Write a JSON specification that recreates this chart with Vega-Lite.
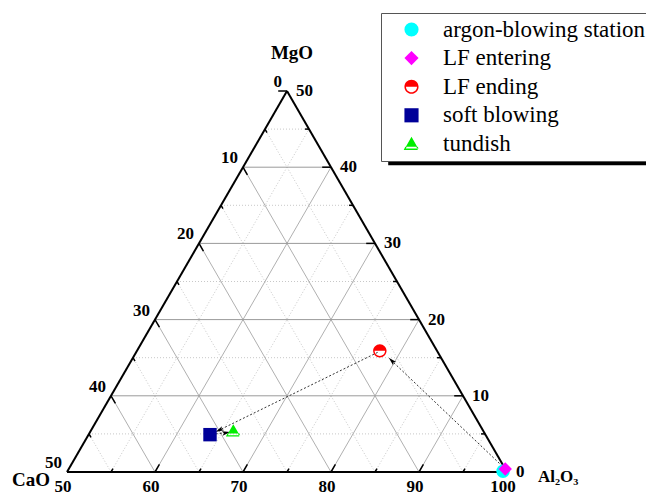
{
  "$schema": "https://vega.github.io/schema/vega-lite/v6.json",
  "width": 440,
  "height": 381,
  "autosize": {"type": "none"},
  "padding": {"left": 67, "top": 91, "right": 139, "bottom": 23},
  "background": "white",
  "config": {
    "view": {"stroke": null},
    "font": "Liberation Serif"
  },
  "datasets": {
    "minor": [
      {"x": 52.5, "y": 5, "x2": 97.5, "y2": 5},
      {"x": 57.5, "y": 15, "x2": 92.5, "y2": 15},
      {"x": 62.5, "y": 25, "x2": 87.5, "y2": 25},
      {"x": 67.5, "y": 35, "x2": 82.5, "y2": 35},
      {"x": 72.5, "y": 45, "x2": 77.5, "y2": 45},
      {"x": 55, "y": 0, "x2": 77.5, "y2": 45},
      {"x": 65, "y": 0, "x2": 82.5, "y2": 35},
      {"x": 75, "y": 0, "x2": 87.5, "y2": 25},
      {"x": 85, "y": 0, "x2": 92.5, "y2": 15},
      {"x": 95, "y": 0, "x2": 97.5, "y2": 5},
      {"x": 95, "y": 0, "x2": 72.5, "y2": 45},
      {"x": 85, "y": 0, "x2": 67.5, "y2": 35},
      {"x": 75, "y": 0, "x2": 62.5, "y2": 25},
      {"x": 65, "y": 0, "x2": 57.5, "y2": 15},
      {"x": 55, "y": 0, "x2": 52.5, "y2": 5}
    ],
    "hmajor": [
      {"x": 55, "y": 10, "x2": 95, "y2": 10},
      {"x": 60, "y": 20, "x2": 90, "y2": 20},
      {"x": 65, "y": 30, "x2": 85, "y2": 30},
      {"x": 70, "y": 40, "x2": 80, "y2": 40}
    ],
    "dmajor": [
      {"x": 60, "y": 0, "x2": 80, "y2": 40},
      {"x": 70, "y": 0, "x2": 85, "y2": 30},
      {"x": 80, "y": 0, "x2": 90, "y2": 20},
      {"x": 90, "y": 0, "x2": 95, "y2": 10},
      {"x": 90, "y": 0, "x2": 70, "y2": 40},
      {"x": 80, "y": 0, "x2": 65, "y2": 30},
      {"x": 70, "y": 0, "x2": 60, "y2": 20},
      {"x": 60, "y": 0, "x2": 55, "y2": 10}
    ],
    "frame": [
      {"x": 50, "y": 0, "x2": 100, "y2": 0},
      {"x": 100, "y": 0, "x2": 75, "y2": 50},
      {"x": 75, "y": 50, "x2": 50, "y2": 0}
    ],
    "ticks": [
      {"x": 97.5, "y": 5, "x2": 97.05, "y2": 5},
      {"x": 95, "y": 10, "x2": 94, "y2": 10},
      {"x": 92.5, "y": 15, "x2": 92.05, "y2": 15},
      {"x": 90, "y": 20, "x2": 89, "y2": 20},
      {"x": 87.5, "y": 25, "x2": 87.05, "y2": 25},
      {"x": 85, "y": 30, "x2": 84, "y2": 30},
      {"x": 82.5, "y": 35, "x2": 82.05, "y2": 35},
      {"x": 80, "y": 40, "x2": 79, "y2": 40},
      {"x": 77.5, "y": 45, "x2": 77.05, "y2": 45},
      {"x": 75, "y": 50, "x2": 74, "y2": 50},
      {"x": 55, "y": 0, "x2": 55.225, "y2": 0.45},
      {"x": 60, "y": 0, "x2": 60.5, "y2": 1},
      {"x": 65, "y": 0, "x2": 65.225, "y2": 0.45},
      {"x": 70, "y": 0, "x2": 70.5, "y2": 1},
      {"x": 75, "y": 0, "x2": 75.225, "y2": 0.45},
      {"x": 80, "y": 0, "x2": 80.5, "y2": 1},
      {"x": 85, "y": 0, "x2": 85.225, "y2": 0.45},
      {"x": 90, "y": 0, "x2": 90.5, "y2": 1},
      {"x": 95, "y": 0, "x2": 95.225, "y2": 0.45},
      {"x": 52.5, "y": 5, "x2": 52.725, "y2": 4.55},
      {"x": 55, "y": 10, "x2": 55.5, "y2": 9},
      {"x": 57.5, "y": 15, "x2": 57.725, "y2": 14.55},
      {"x": 60, "y": 20, "x2": 60.5, "y2": 19},
      {"x": 62.5, "y": 25, "x2": 62.725, "y2": 24.55},
      {"x": 65, "y": 30, "x2": 65.5, "y2": 29},
      {"x": 67.5, "y": 35, "x2": 67.725, "y2": 34.55},
      {"x": 70, "y": 40, "x2": 70.5, "y2": 39},
      {"x": 72.5, "y": 45, "x2": 72.725, "y2": 44.55}
    ],
    "arrows": [
      {"x": 99.8, "y": 0.4, "x2": 86.9, "y2": 14.6},
      {"x": 85.3, "y": 15.7, "x2": 67.3, "y2": 5.5},
      {"x": 66.9, "y": 5.0, "x2": 68.1, "y2": 5.15}
    ],
    "samples": [
      {"stage": "argon-blowing station", "Al2O3": 99.5, "MgO": 0.1, "CaO": 0.4, "x": 99.55},
      {"stage": "LF entering", "Al2O3": 99.6, "MgO": 0.4, "CaO": 0.0, "x": 99.8},
      {"stage": "LF ending", "Al2O3": 77.6, "MgO": 15.9, "CaO": 6.5, "x": 85.55},
      {"stage": "soft blowing", "Al2O3": 63.8, "MgO": 4.9, "CaO": 31.3, "x": 66.25},
      {"stage": "tundish", "Al2O3": 66.2, "MgO": 5.4, "CaO": 28.4, "x": 68.9}
    ],
    "leftLabels": [
      {"t": "0", "x": 75, "y": 50},
      {"t": "10", "x": 70, "y": 40},
      {"t": "20", "x": 65, "y": 30},
      {"t": "30", "x": 60, "y": 20},
      {"t": "40", "x": 55, "y": 10},
      {"t": "50", "x": 50, "y": 0}
    ],
    "rightLabels": [
      {"t": "50", "x": 75, "y": 50},
      {"t": "40", "x": 80, "y": 40},
      {"t": "30", "x": 85, "y": 30},
      {"t": "20", "x": 90, "y": 20},
      {"t": "10", "x": 95, "y": 10},
      {"t": "0", "x": 100, "y": 0}
    ],
    "bottomLabels": [
      {"t": "50", "x": 50, "y": 0},
      {"t": "60", "x": 60, "y": 0},
      {"t": "70", "x": 70, "y": 0},
      {"t": "80", "x": 80, "y": 0},
      {"t": "90", "x": 90, "y": 0},
      {"t": "100", "x": 100, "y": 0}
    ]
  },
  "layer": [
    {
      "data": {"name": "minor"},
      "mark": {"type": "rule", "color": "#c8c8c8", "strokeWidth": 1, "strokeDash": [1, 2]},
      "encoding": {
        "x": {"field": "x", "type": "quantitative", "scale": {"domain": [50, 100], "nice": false, "zero": false}, "axis": null},
        "y": {"field": "y", "type": "quantitative", "scale": {"domain": [0, 50], "nice": false, "zero": false}, "axis": null},
        "x2": {"field": "x2"},
        "y2": {"field": "y2"}
      }
    },
    {
      "data": {"name": "dmajor"},
      "mark": {"type": "rule", "color": "#b0b0b0", "strokeWidth": 1},
      "encoding": {
        "x": {"field": "x", "type": "quantitative"},
        "y": {"field": "y", "type": "quantitative"},
        "x2": {"field": "x2"},
        "y2": {"field": "y2"}
      }
    },
    {
      "data": {"name": "hmajor"},
      "mark": {"type": "rule", "color": "#9a9a9a", "strokeWidth": 1},
      "encoding": {
        "x": {"field": "x", "type": "quantitative"},
        "y": {"field": "y", "type": "quantitative"},
        "x2": {"field": "x2"},
        "y2": {"field": "y2"}
      }
    },
    {
      "data": {"name": "frame"},
      "mark": {"type": "rule", "color": "black", "strokeWidth": 2},
      "encoding": {
        "x": {"field": "x", "type": "quantitative"},
        "y": {"field": "y", "type": "quantitative"},
        "x2": {"field": "x2"},
        "y2": {"field": "y2"}
      }
    },
    {
      "data": {"name": "ticks"},
      "mark": {"type": "rule", "color": "black", "strokeWidth": 1.5},
      "encoding": {
        "x": {"field": "x", "type": "quantitative"},
        "y": {"field": "y", "type": "quantitative"},
        "x2": {"field": "x2"},
        "y2": {"field": "y2"}
      }
    },
    {
      "data": {"name": "arrows"},
      "mark": {"type": "rule", "color": "#333333", "strokeWidth": 1, "strokeDash": [2, 2]},
      "encoding": {
        "x": {"field": "x", "type": "quantitative"},
        "y": {"field": "y", "type": "quantitative"},
        "x2": {"field": "x2"},
        "y2": {"field": "y2"}
      }
    },
    {
      "data": {"values": [{"x": 86.9, "y": 14.6}]},
      "mark": {"type": "point", "filled": true, "color": "black", "opacity": 1, "size": 70, "angle": 314, "shape": "M0,-1L0.55,1L0,0.55L-0.55,1Z"},
      "encoding": {
        "x": {"field": "x", "type": "quantitative"},
        "y": {"field": "y", "type": "quantitative"}
      }
    },
    {
      "data": {"values": [{"x": 67.3, "y": 5.5}]},
      "mark": {"type": "point", "filled": true, "color": "black", "opacity": 1, "size": 70, "angle": 244, "shape": "M0,-1L0.55,1L0,0.55L-0.55,1Z"},
      "encoding": {
        "x": {"field": "x", "type": "quantitative"},
        "y": {"field": "y", "type": "quantitative"}
      }
    },
    {
      "data": {"values": [{"x": 68.1, "y": 5.15}]},
      "mark": {"type": "point", "filled": true, "color": "black", "opacity": 1, "size": 70, "angle": 80, "shape": "M0,-1L0.55,1L0,0.55L-0.55,1Z"},
      "encoding": {
        "x": {"field": "x", "type": "quantitative"},
        "y": {"field": "y", "type": "quantitative"}
      }
    },
    {
      "data": {"values": [{"part": "legend shadow", "x": 86.5, "y": 40.6, "x2": 117.5, "y2": 40.6}]},
      "mark": {"type": "rule", "color": "black", "strokeWidth": 5},
      "encoding": {
        "x": {"field": "x", "type": "quantitative"},
        "y": {"field": "y", "type": "quantitative"},
        "x2": {"field": "x2"},
        "y2": {"field": "y2"}
      }
    },
    {
      "data": {"name": "samples"},
      "mark": {"type": "point", "filled": true, "opacity": 1, "size": 180},
      "encoding": {
        "x": {"field": "x", "type": "quantitative"},
        "y": {"field": "MgO", "type": "quantitative"},
        "color": {
          "field": "stage", "type": "nominal",
          "scale": {
            "domain": ["argon-blowing station", "LF entering", "LF ending", "soft blowing", "tundish"],
            "range": ["#00ffff", "#ff00ff", "#ff0000", "#000099", "#00ee00"]
          },
          "legend": {
            "orient": "none", "legendX": 314, "legendY": -78, "title": null,
            "strokeColor": "#555555", "fillColor": "white", "padding": 5,
            "labelFont": "Liberation Serif", "labelFontSize": 23, "labelColor": "black", "labelLimit": 400,
            "symbolSize": 200, "symbolOffset": 14, "labelOffset": 20, "rowPadding": 4.6, "symbolStrokeWidth": 0
          }
        },
        "shape": {
          "field": "stage", "type": "nominal",
          "scale": {
            "domain": ["argon-blowing station", "LF entering", "LF ending", "soft blowing", "tundish"],
            "range": [
              "circle",
              "diamond",
              "M-1,0A1,1 0 0,1 1,0Z M1,0A1,1 0 0,1 -1,0L-0.78,0A0.78,0.78 0 0,0 0.78,0Z",
              "square",
              "M0,-1L0.8,0.4L-0.8,0.4Z M-0.88,0.4L-1.1,0.85L-0.9,0.85L-0.68,0.4Z M0.88,0.4L1.1,0.85L0.9,0.85L0.68,0.4Z M-1.1,0.85L1.1,0.85L1.0,0.65L-1.0,0.65Z"
            ]
          },
          "legend": {
            "orient": "none", "legendX": 314, "legendY": -78, "title": null,
            "strokeColor": "#555555", "fillColor": "white", "padding": 5,
            "labelFont": "Liberation Serif", "labelFontSize": 23, "labelColor": "black", "labelLimit": 400,
            "symbolSize": 200, "symbolOffset": 14, "labelOffset": 20, "rowPadding": 4.6, "symbolStrokeWidth": 0
          }
        }
      }
    },
    {
      "data": {"name": "leftLabels"},
      "mark": {"type": "text", "font": "Liberation Serif", "fontWeight": "bold", "fontSize": 17, "align": "right", "baseline": "middle", "dx": -5, "dy": -9, "color": "black"},
      "encoding": {
        "x": {"field": "x", "type": "quantitative"},
        "y": {"field": "y", "type": "quantitative"},
        "text": {"field": "t"}
      }
    },
    {
      "data": {"name": "rightLabels"},
      "mark": {"type": "text", "font": "Liberation Serif", "fontWeight": "bold", "fontSize": 17, "align": "left", "baseline": "middle", "dx": 9, "dy": 0, "color": "black"},
      "encoding": {
        "x": {"field": "x", "type": "quantitative"},
        "y": {"field": "y", "type": "quantitative"},
        "text": {"field": "t"}
      }
    },
    {
      "data": {"name": "bottomLabels"},
      "mark": {"type": "text", "font": "Liberation Serif", "fontWeight": "bold", "fontSize": 17, "align": "center", "baseline": "middle", "dx": -4, "dy": 15, "color": "black"},
      "encoding": {
        "x": {"field": "x", "type": "quantitative"},
        "y": {"field": "y", "type": "quantitative"},
        "text": {"field": "t"}
      }
    },
    {
      "data": {"values": [{"t": "MgO", "x": 75, "y": 50}]},
      "mark": {"type": "text", "font": "Liberation Serif", "fontWeight": "bold", "fontSize": 19, "align": "center", "baseline": "middle", "dx": 5, "dy": -38, "color": "black"},
      "encoding": {
        "x": {"field": "x", "type": "quantitative"},
        "y": {"field": "y", "type": "quantitative"},
        "text": {"field": "t"}
      }
    },
    {
      "data": {"values": [{"t": "CaO", "x": 50, "y": 0}]},
      "mark": {"type": "text", "font": "Liberation Serif", "fontWeight": "bold", "fontSize": 19, "align": "right", "baseline": "middle", "dx": -17, "dy": 8, "color": "black"},
      "encoding": {
        "x": {"field": "x", "type": "quantitative"},
        "y": {"field": "y", "type": "quantitative"},
        "text": {"field": "t"}
      }
    },
    {
      "data": {"values": [{"t": "Al₂O₃", "x": 100, "y": 0}]},
      "mark": {"type": "text", "font": "Liberation Serif", "fontWeight": "bold", "fontSize": 17, "align": "left", "baseline": "middle", "dx": 31, "dy": 5, "color": "black"},
      "encoding": {
        "x": {"field": "x", "type": "quantitative"},
        "y": {"field": "y", "type": "quantitative"},
        "text": {"field": "t"}
      }
    }
  ]
}
